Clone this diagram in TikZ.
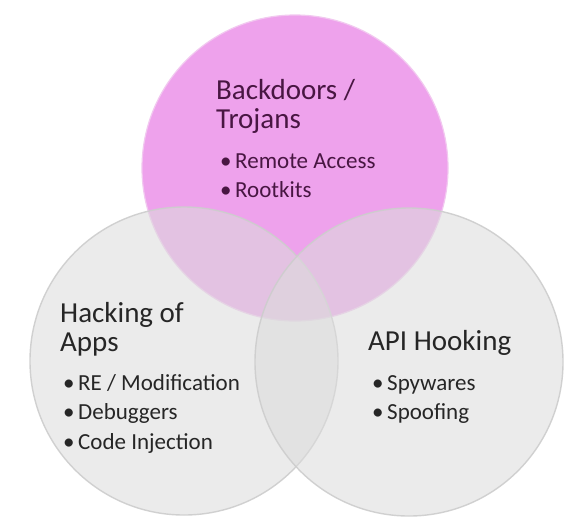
\documentclass[tikz,border=0pt]{standalone}
\usepackage{fontspec}
\setmainfont{Carlito}
\definecolor{pinkfill}{RGB}{238,162,236}
\definecolor{pinkrim}{RGB}{242,200,240}
\definecolor{grayfill}{RGB}{220,220,220}
\definecolor{grayrim}{RGB}{205,205,205}
\definecolor{toptext}{RGB}{72,22,66}
\definecolor{graytext}{RGB}{38,38,38}
\tikzset{
  setpink/.style={fill=pinkfill, draw=pinkrim, line width=1.2pt},
  setgray/.style={fill=grayfill, fill opacity=0.57, draw=grayrim, draw opacity=0.9, line width=1.4pt},
  ttl/.style={anchor=base west, inner sep=0pt, align=left, font=\fontsize{29}{29}\selectfont},
  itm/.style={anchor=base west, inner sep=0pt, font=\fontsize{23}{23}\selectfont},
}
\newcommand{\bul}{\makebox[15pt][l]{\textbullet}}
\begin{document}
\begin{tikzpicture}[x=1pt,y=-1pt]
\useasboundingbox[fill=white] (0,0) rectangle (569,520);
% circles
\draw[setpink] (295,168) circle[radius=153];
\draw[setgray] (184,361) circle[radius=154];
\draw[setgray] (409,362) circle[radius=154];
% top set
\node[ttl, text=toptext] (t1) at (216,128) {Backdoors /\\Trojans};
\node[itm, text=toptext] (t3) at (220,168) {\bul Remote Access};
\node[itm, text=toptext] (t4) at (220,197) {\bul Rootkits};
% left set
\node[ttl, text=graytext] (l1) at (60,351) {Hacking of\\Apps};
\node[itm, text=graytext] (l3) at (63,390) {\bul RE / Modification};
\node[itm, text=graytext] (l4) at (63,419) {\bul Debuggers};
\node[itm, text=graytext] (l5) at (63,449) {\bul Code Injection};
% right set
\node[ttl, text=graytext] (r1) at (368,350) {API Hooking};
\node[itm, text=graytext] (r2) at (372,390) {\bul Spywares};
\node[itm, text=graytext] (r3) at (372,419) {\bul Spoofing};
\end{tikzpicture}
\end{document}
